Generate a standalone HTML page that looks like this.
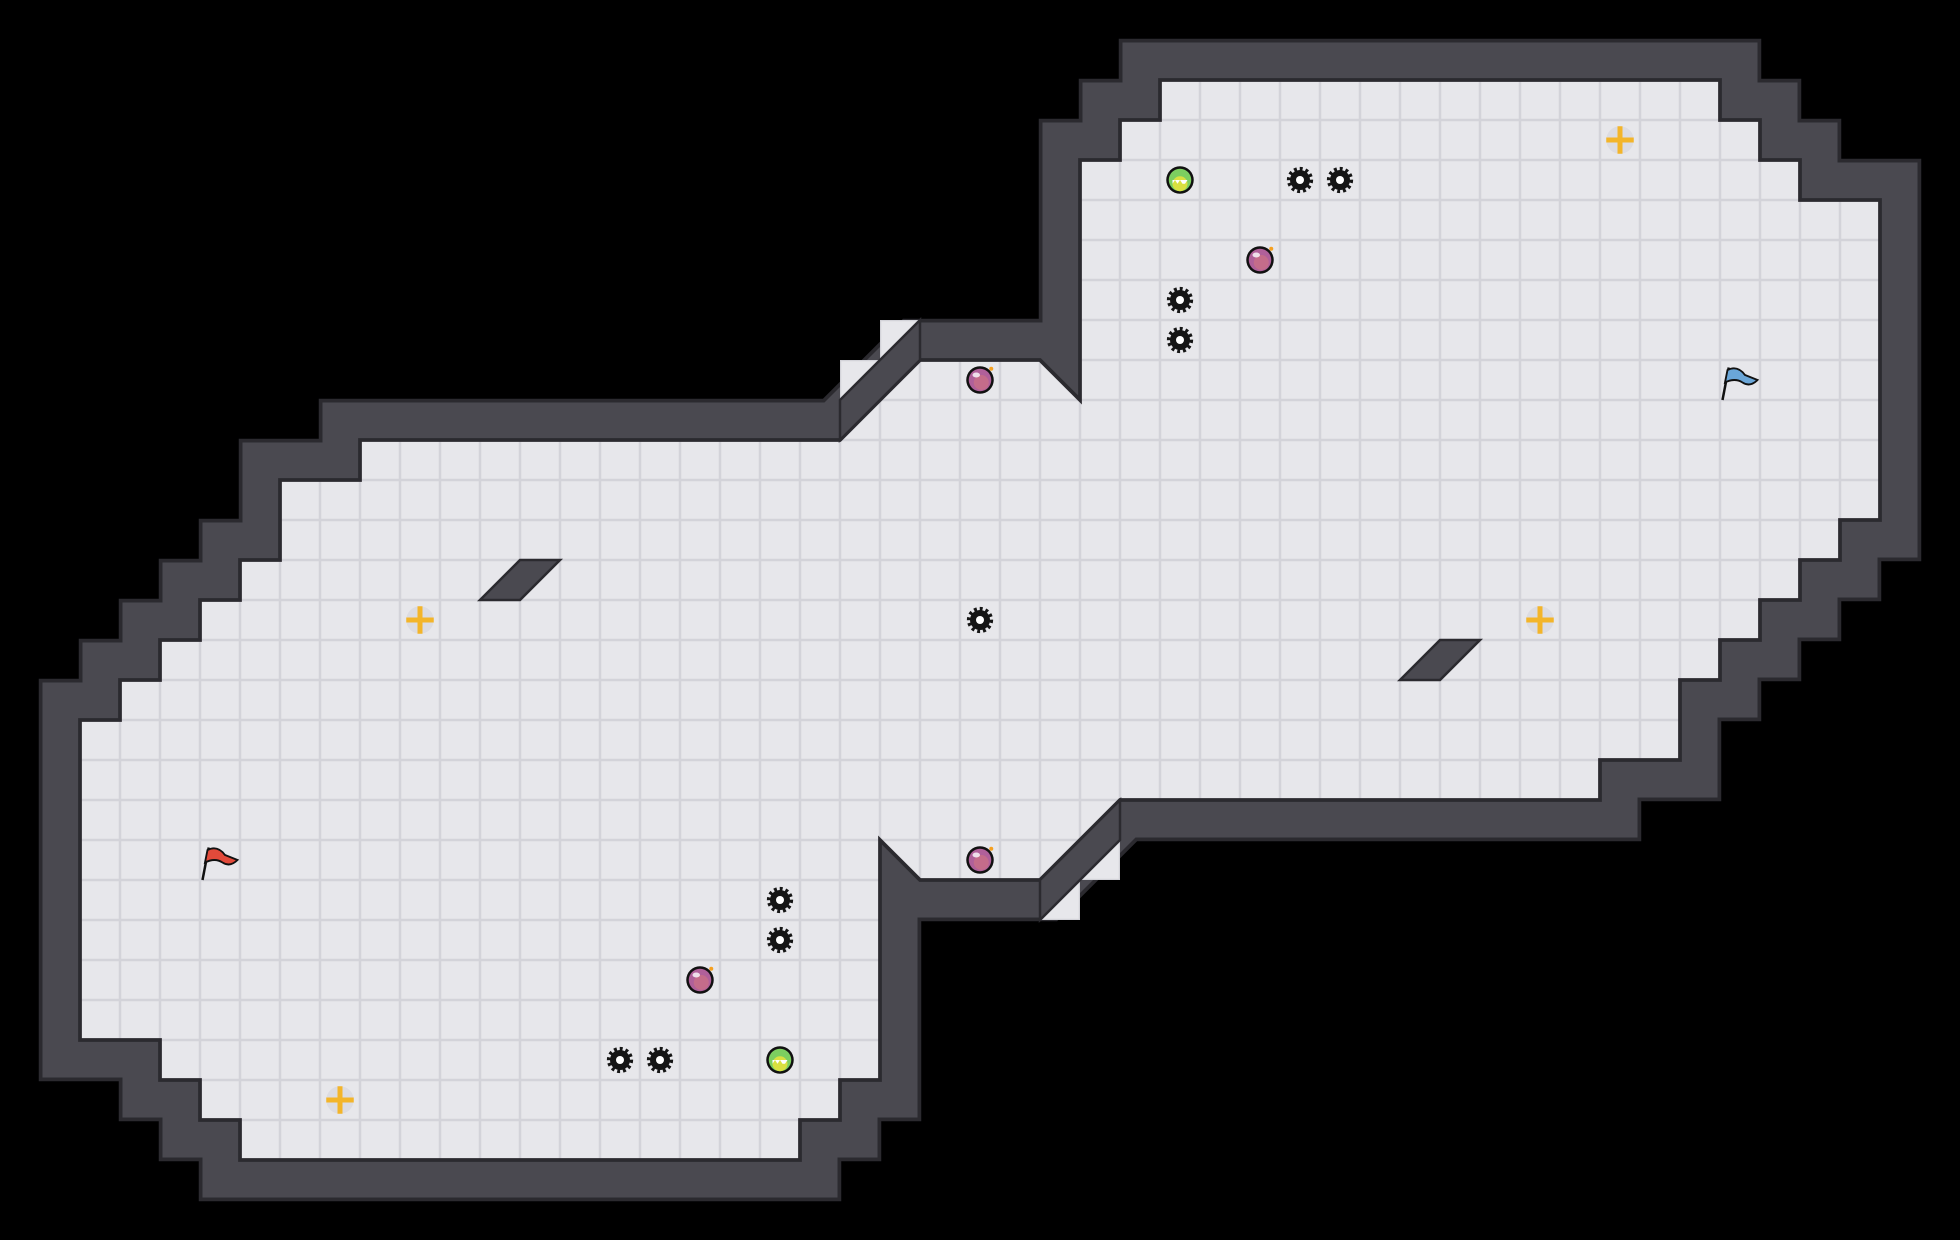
<!DOCTYPE html>
<html><head><meta charset="utf-8"><style>html,body{margin:0;padding:0;background:#000;}svg{display:block}</style></head>
<body>
<svg width="1960" height="1240" viewBox="0 0 1568 992" xmlns="http://www.w3.org/2000/svg">
<defs>
<pattern id="g" width="32" height="32" patternUnits="userSpaceOnUse">
<rect width="32" height="32" fill="#d3d3d9"/>
<rect x="1" y="1" width="30" height="30" fill="#e7e7eb"/>
</pattern>
<g id="gear"><circle r="8.5" fill="none" stroke="#151515" stroke-width="4" stroke-dasharray="2.2 2.2"/><circle r="8" fill="#151515"/><circle r="3.2" fill="#fff"/></g>
<g id="bomb"><circle r="11" fill="#111"/><circle r="9" fill="#b0609a"/><circle r="6" cx="1" cy="2" fill="#c46c8a"/><ellipse cx="-3" cy="-4" rx="3" ry="2" fill="#fff" opacity=".8"/><circle cx="9" cy="-9" r="1.6" fill="#f5a020"/></g>
<g id="green"><circle r="11" fill="#111"/><circle r="9" fill="#7ccf60"/><circle r="6" cy="3" fill="#d9e040"/><path d="M-6 0h12l-2 3h-2l-2-3-2 3-2-3-2 3z" fill="#fff"/></g>
<g id="cross"><circle r="11" fill="#dcdce2"/><path d="M-2 -11h4v9h9v4h-9v9h-4v-9h-9v-4h9z" fill="#f3b52a"/></g>
</defs>
<rect width="1568" height="992" fill="#000"/>
<polygon id="fl" points="928,64 1376,64 1376,96 1408,96 1408,128 1440,128 1440,160 1504,160 1504,416 1472,416 1472,448 1440,448 1440,480 1408,480 1408,512 1376,512 1376,544 1344,544 1344,608 1280,608 1280,640 896,640 832,704 736,704 704,672 704,864 672,864 672,896 640,896 640,928 192,928 192,896 160,896 160,864 128,864 128,832 64,832 64,576 96,576 96,544 128,544 128,512 160,512 160,480 192,480 192,448 224,448 224,384 288,384 288,352 672,352 736,288 832,288 864,320 864,128 896,128 896,96 928,96" fill="none" stroke="#2b2a2f" stroke-width="66" stroke-linejoin="miter" stroke-miterlimit="10"/>
<polygon points="928,64 1376,64 1376,96 1408,96 1408,128 1440,128 1440,160 1504,160 1504,416 1472,416 1472,448 1440,448 1440,480 1408,480 1408,512 1376,512 1376,544 1344,544 1344,608 1280,608 1280,640 896,640 832,704 736,704 704,672 704,864 672,864 672,896 640,896 640,928 192,928 192,896 160,896 160,864 128,864 128,832 64,832 64,576 96,576 96,544 128,544 128,512 160,512 160,480 192,480 192,448 224,448 224,384 288,384 288,352 672,352 736,288 832,288 864,320 864,128 896,128 896,96 928,96" fill="none" stroke="#4a4950" stroke-width="60" stroke-linejoin="miter" stroke-miterlimit="10"/>
<polygon points="928,64 1376,64 1376,96 1408,96 1408,128 1440,128 1440,160 1504,160 1504,416 1472,416 1472,448 1440,448 1440,480 1408,480 1408,512 1376,512 1376,544 1344,544 1344,608 1280,608 1280,640 896,640 832,704 736,704 704,672 704,864 672,864 672,896 640,896 640,928 192,928 192,896 160,896 160,864 128,864 128,832 64,832 64,576 96,576 96,544 128,544 128,512 160,512 160,480 192,480 192,448 224,448 224,384 288,384 288,352 672,352 736,288 832,288 864,320 864,128 896,128 896,96 928,96" fill="url(#g)" stroke="#2b2a2f" stroke-width="3"/>
<rect x="0" y="0" width="1568" height="992" fill="url(#g)" clip-path="url(#c1)"/>
<clipPath id="c1"><rect x="704" y="256" width="32" height="32"/><rect x="672" y="288" width="32" height="32"/><rect x="864" y="672" width="32" height="32"/><rect x="832" y="704" width="32" height="32"/></clipPath>
<polygon points="672,320 736,256 736,288 672,352" fill="#4a4950" stroke="#2b2a2f" stroke-width="2"/>
<polygon points="896,640 896,672 832,736 832,704" fill="#4a4950" stroke="#2b2a2f" stroke-width="2"/>
<polygon points="384,480 416,448 448,448 416,480" fill="#4a4950" stroke="#2b2a2f" stroke-width="2"/>
<polygon points="1120,544 1152,512 1184,512 1152,544" fill="#4a4950" stroke="#2b2a2f" stroke-width="2"/>
<use href="#gear" x="1040" y="144"/><use href="#gear" x="1072" y="144"/>
<use href="#gear" x="944" y="240"/><use href="#gear" x="944" y="272"/>
<use href="#gear" x="784" y="496"/>
<use href="#gear" x="624" y="720"/><use href="#gear" x="624" y="752"/>
<use href="#gear" x="496" y="848"/><use href="#gear" x="528" y="848"/>
<use href="#bomb" x="1008" y="208"/><use href="#bomb" x="784" y="304"/><use href="#bomb" x="784" y="688"/><use href="#bomb" x="560" y="784"/>
<use href="#green" x="944" y="144"/><use href="#green" x="624" y="848"/>
<use href="#cross" x="1296" y="112"/><use href="#cross" x="336" y="496"/><use href="#cross" x="1232" y="496"/><use href="#cross" x="272" y="880"/>
<g transform="translate(162,676)"><path d="M0 28 L5 2" stroke="#111" stroke-width="2"/><path d="M4 4 Q12 0 18 8 L28 12 Q22 18 16 14 Q10 10 2 14 Z" fill="#e24a3a" stroke="#111" stroke-width="1.5"/></g>
<g transform="translate(1378,292)"><path d="M0 28 L5 2" stroke="#111" stroke-width="2"/><path d="M4 4 Q12 0 18 8 L28 12 Q22 18 16 14 Q10 10 2 14 Z" fill="#6aa6d8" stroke="#111" stroke-width="1.5"/></g>
</svg>
</body></html>
